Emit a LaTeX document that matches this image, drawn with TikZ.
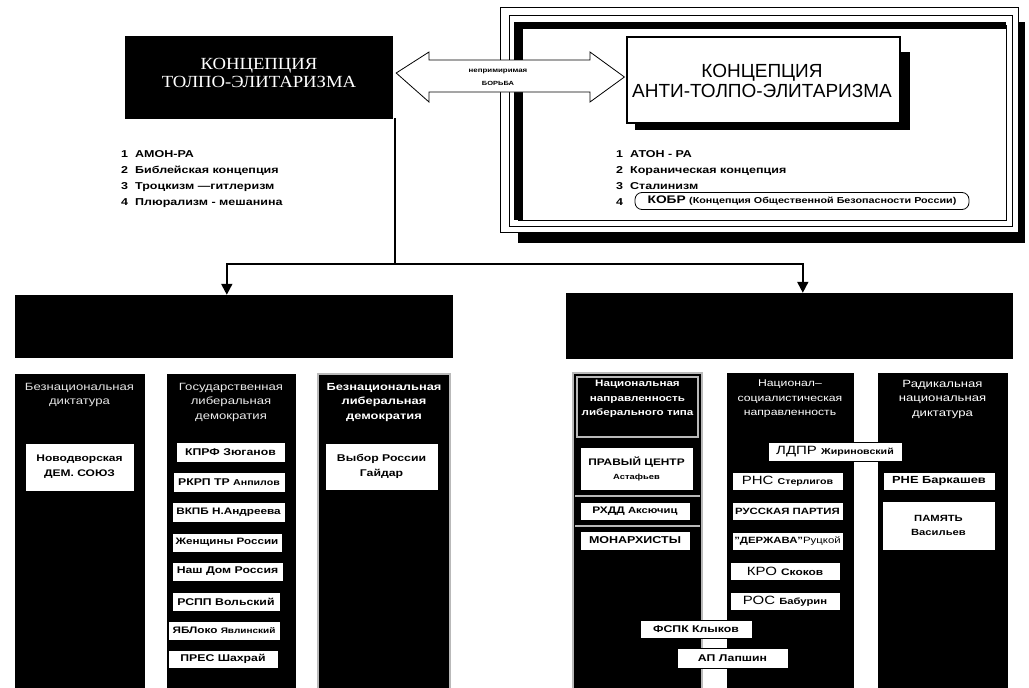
\documentclass[tikz,border=0pt]{standalone}
\usepackage{fontspec}
\setmainfont{Liberation Sans}[FakeStretch=1.25]
\newfontfamily\plainsans{Liberation Sans}
\newfontfamily\serifcap{Liberation Serif}[FakeStretch=1.1]
\usetikzlibrary{arrows.meta,calc}
\newcommand\rnode[7]{\node[#1,minimum width={(#5)-(#3)},minimum height={(#6)-(#4)},inner sep=0pt] (#2) at ({((#3)+(#5))/2},{((#4)+(#6))/2}) {#7};}
\newcommand\fs[1]{\fontsize{#1}{#1}\selectfont}
\begin{document}
\begin{tikzpicture}[x=1pt,y=-1pt,
 blackbox/.style={fill=black,draw=black},
 wb/.style={fill=white,draw=black,line width=0.6pt,align=center,text=black,font=\bfseries\fs{9.8}},
 coltitle/.style={text=white,align=center,anchor=north,inner sep=0pt,font=\fontsize{10.5}{14.5}\selectfont},
 conn/.style={line width=1.8pt},
 arr/.style={line width=1.8pt,-{Triangle[width=11pt,length=11pt]}},
 listtxt/.style={anchor=base west,font=\bfseries\fs{10},inner sep=0pt},
 grain/.style={draw=gray!55,line width=1.2pt}
]
\useasboundingbox[fill=white] (0,0) rectangle (1029,688);

% ---------- top left concept
\rnode{blackbox}{lc}{125}{36}{392}{118}{}
\node[text=white,align=center,font=\serifcap\fontsize{17}{18.5}\selectfont] (lct) at (259,73) {КОНЦЕПЦИЯ\\ТОЛПО-ЭЛИТАРИЗМА};

% ---------- top right frame
\fill[black] (518,22) rectangle (1025,243);
\draw[fill=white,line width=0.8pt] (500,7) rectangle (1018,232);
\draw[line width=0.8pt] (509,15) rectangle (1012,226);
\draw[line width=0.8pt] (518,25) rectangle (1006,220);
\fill[black] (514,22) rectangle (523,220);
\fill[black] (514,22) rectangle (1006,29);

% right concept box with shadow
\fill[black] (635,52) rectangle (910,130);
\rnode{fill=white,draw=black,line width=1.2pt}{rc}{627}{37}{900}{123}{}
\node[align=center,font=\plainsans\fontsize{19}{20.5}\selectfont] (rct) at (762,81) {КОНЦЕПЦИЯ\\АНТИ-ТОЛПО-ЭЛИТАРИЗМА};

% ---------- double arrow "struggle"
\draw[fill=white,line width=0.8pt] (lc.east) ++(4,-4) coordinate (fa)
  -- (429,52) -- (429,60) -- (590,60) -- (590,52) -- ($(rc.west)+(-2,-3)$) coordinate (fb)
  -- (590,102) -- (590,92) -- (429,92) -- (429,102) -- cycle;
\node[font=\bfseries\fs{6.3}] (f1) at (498,71) {непримиримая};
\node[font=\bfseries\fs{6}] (f2) at (498,83) {БОРЬБА};

% ---------- lists
\node[listtxt] (a1) at (121,157) {1\hspace{7pt}АМОН-РА};
\node[listtxt] (a2) at (121,173) {2\hspace{7pt}Библейская концепция};
\node[listtxt] (a3) at (121,189) {3\hspace{7pt}Троцкизм —гитлеризм};
\node[listtxt] (a4) at (121,205) {4\hspace{7pt}Плюрализм - мешанина};

\node[listtxt] (b1) at (616,157) {1\hspace{7pt}АТОН - РА};
\node[listtxt] (b2) at (616,173) {2\hspace{7pt}Кораническая концепция};
\node[listtxt] (b3) at (616,189) {3\hspace{7pt}Сталинизм};
\node[listtxt] (b4) at (616,205) {4};
\node[draw,rounded corners=7pt,line width=0.8pt,inner sep=2pt,minimum width=334pt,minimum height=17pt,font=\bfseries] (kobr) at (802,201) {{\fs{11}КОБР} {\fs{8.6}(Концепция Общественной Безопасности России)}};

% ---------- headers
\rnode{blackbox}{lh}{15}{295}{452}{357}{}
\rnode{blackbox}{rh}{566}{293}{1012}{358}{}

% connectors
\coordinate (j) at (395,264);
\draw[conn] (lc.south east) ++(3,0) coordinate (lcs) -- (lcs |- j);
\draw[arr] (j) -| ($(lh.north west)+(212,0)$);
\draw[arr] (j) -| ($(rh.north west)+(237,0)$);

% ---------- columns left
\rnode{blackbox}{c1}{15}{374}{144}{690}{}
\rnode{blackbox}{c2}{167}{374}{295}{690}{}
\rnode{fill=black,grain}{c3}{318}{374}{450}{690}{}
\node[coltitle,text=white!80!gray] (t1) at (79.5,383) {Безнациональная\\диктатура};
\node[coltitle,text=white!85!gray] (t2) at (231,383) {Государственная\\либеральная\\демократия};
\node[coltitle,font=\bfseries\fontsize{10.3}{14.5}\selectfont] (t3) at (384,383) {Безнациональная\\либеральная\\демократия};

\rnode{wb,font=\bfseries\fontsize{9.6}{15}\selectfont}{n1}{25}{443}{134}{491}{Новодворская\\ДЕМ. СОЮЗ}
\rnode{wb}{n2}{176}{442}{285}{462}{КПРФ Зюганов}
\rnode{wb}{n3}{173}{472}{285}{492}{РКРП ТР {\fs{8.5}Анпилов}}
\rnode{wb,font=\bfseries\fs{9.4}}{n4}{172}{502}{285}{522}{ВКПБ Н.Андреева}
\rnode{wb,font=\bfseries\fs{9.3}}{n5}{172}{533}{282}{552}{Женщины России}
\rnode{wb}{n6}{172}{562}{283}{581}{Наш Дом Россия}
\rnode{wb}{n7}{172}{592}{280}{611}{РСПП Вольский}
\rnode{wb,font=\bfseries\fs{9.4}}{n8}{168}{621}{280}{640}{ЯБЛоко {\fs{8}Явлинский}}
\rnode{wb}{n9}{168}{650}{278}{668}{ПРЕС Шахрай}
\rnode{wb,font=\bfseries\fontsize{9.8}{15}\selectfont}{n10}{325}{443}{438}{490}{Выбор России\\Гайдар}

% ---------- columns right
\rnode{fill=black,grain}{c4}{573}{373}{702}{690}{}
\rnode{blackbox}{c5}{727}{373}{853}{690}{}
\rnode{blackbox}{c6}{878}{373}{1007}{690}{}
\draw[grain] (577,377) rectangle (698,437);
\draw[grain] (575,496) -- (700,496);
\draw[grain] (575,526) -- (700,526);
\node[coltitle,font=\bfseries\fontsize{9.3}{14.5}\selectfont] (t4) at (637.5,380) {Национальная\\направленность\\либерального типа};
\node[coltitle,font=\fontsize{9.8}{14.5}\selectfont] (t5) at (790,380) {Национал–\\социалистическая\\направленность};
\node[coltitle] (t6) at (942.5,380) {Радикальная\\национальная\\диктатура};

\rnode{wb,font=\bfseries\fontsize{9.5}{14}\selectfont}{m1}{580}{447}{693}{490}{ПРАВЫЙ ЦЕНТР\\{\fs{7.5}Астафьев}}
\rnode{wb,font=\bfseries\fs{9.5}}{m2}{580}{502}{690}{520}{РХДД {\fs{9}Аксючиц}}
\rnode{wb,font=\bfseries\fs{10}}{m3}{580}{531}{690}{550}{МОНАРХИСТЫ}

\rnode{wb,font=\fs{12}}{m4}{768}{442}{902}{461}{ЛДПР {\bfseries\fs{8.5}Жириновский}}
\rnode{wb,font=\fs{12}}{m5}{732}{472}{843}{490}{РНС {\bfseries\fs{8.5}Стерлигов}}
\rnode{wb,font=\bfseries\fs{9.1}}{m6}{732}{502}{843}{520}{РУССКАЯ ПАРТИЯ}
\rnode{wb,font=\bfseries\fs{9.1}}{m7}{732}{532}{843}{550}{"ДЕРЖАВА"{\mdseries Руцкой}}
\rnode{wb,font=\fs{12}}{m8}{730}{562}{840}{580}{КРО {\bfseries\fs{9.5}Скоков}}
\rnode{wb,font=\fs{12}}{m9}{730}{592}{840}{610}{РОС {\bfseries\fs{9}Бабурин}}
\rnode{wb,font=\bfseries\fs{9.8}}{m10}{640}{620}{752}{638}{ФСПК Клыков}
\rnode{wb,font=\bfseries\fs{9.8}}{m11}{677}{648}{788}{668}{АП Лапшин}

\rnode{wb,font=\bfseries\fs{10.3}}{m12}{883}{472}{995}{490}{РНЕ Баркашев}
\rnode{wb,font=\bfseries\fontsize{9}{14}\selectfont}{m13}{882}{501}{995}{550}{ПАМЯТЬ\\{\fs{9}Васильев}}
\end{tikzpicture}
\end{document}
